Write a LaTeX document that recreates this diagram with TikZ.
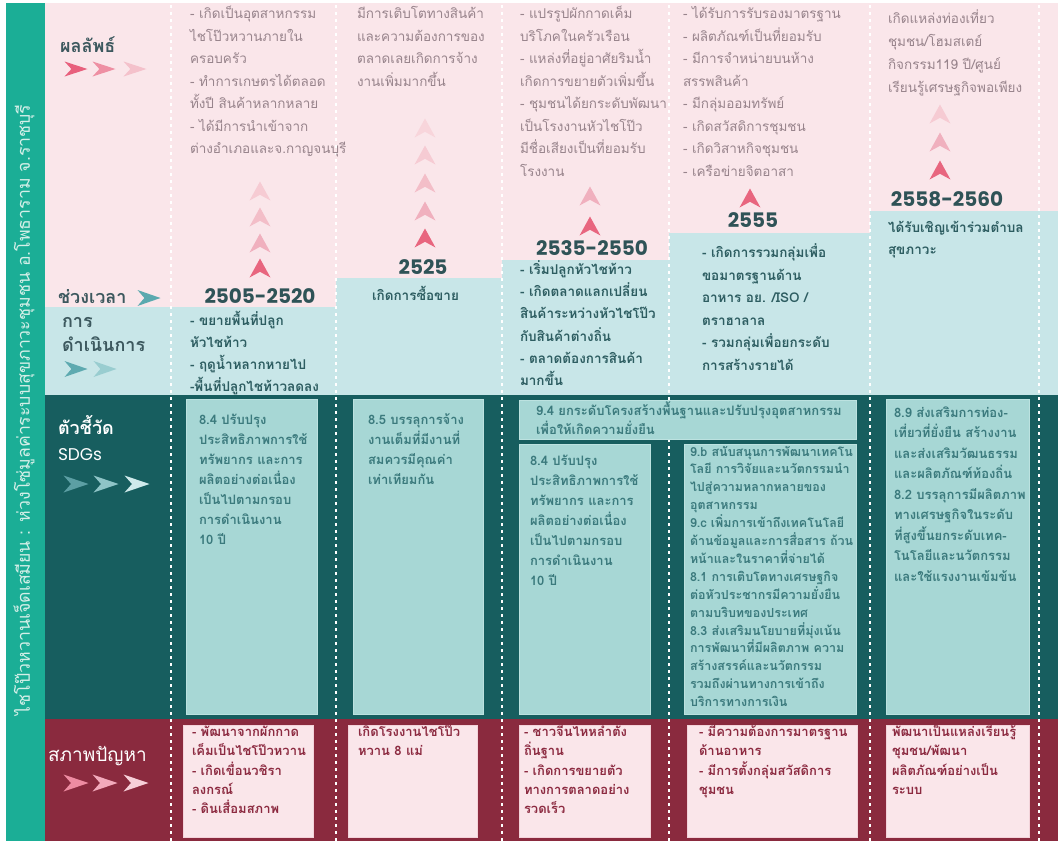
\documentclass[tikz,border=0pt]{standalone}
\usepackage{fontspec}
\setmainfont{Loma}[Script=Thai]
\newfontfamily\numfont{Poppins}
\definecolor{stripc}{HTML}{1BAE96}
\definecolor{striptext}{HTML}{D4EFE8}
\definecolor{pinkbg}{HTML}{FAE6EA}
\definecolor{tealbg}{HTML}{C8E6E8}
\definecolor{darkteal}{HTML}{175E5F}
\definecolor{sdgfill}{HTML}{A7D7D5}
\definecolor{sdgline}{HTML}{BCE2E0}
\definecolor{maroonbg}{HTML}{8A2A3E}
\definecolor{marline}{HTML}{F3D3DA}
\definecolor{pinktext}{HTML}{98848C}
\definecolor{headc}{HTML}{3C585E}
\definecolor{yearc}{HTML}{2F5357}
\definecolor{tealtext}{HTML}{2D5D61}
\definecolor{sdgtext}{HTML}{3B7A7D}
\definecolor{martext}{HTML}{8C2A40}
\newcommand\fl{\rule{0pt}{16pt}}
% up arrow: x, y, size, hex colour
\newcommand\uparr[4]{\definecolor{tmpc}{HTML}{#4}\fill[tmpc] (#1,#2-#3*0.5) -- (#1+#3*0.55,#2+#3*0.5) -- (#1,#2+#3*0.2) -- (#1-#3*0.55,#2+#3*0.5) -- cycle;}
% right arrow: x, y, width, height, hex colour
\newcommand\rarr[5]{\definecolor{tmpc}{HTML}{#5}\fill[tmpc] (#1+#3*0.5,#2) -- (#1-#3*0.5,#2-#4*0.5) -- (#1-#3*0.2,#2) -- (#1-#3*0.5,#2+#4*0.5) -- cycle;}
\tikzset{
  every node/.style={inner sep=0pt, outer sep=0pt},
  para/.style={anchor=north west, align=left},
  pinkpara/.style={para, text=pinktext, font=\fontsize{13.5}{22.5}\selectfont},
  tealpara/.style={para, text=tealtext, font=\fontsize{13.5}{22.2}\selectfont\bfseries},
  sdgpara/.style={para, text=sdgtext, font=\fontsize{13}{20}\selectfont\bfseries},
  sdgtight/.style={para, text=sdgtext, font=\fontsize{12.5}{17.9}\selectfont\bfseries},
  marpara/.style={para, text=martext, font=\fontsize{13}{19.3}\selectfont\bfseries},
  yearlbl/.style={text=yearc, font=\numfont\bfseries\fontsize{20}{24}\selectfont},
  headlbl/.style={anchor=base west, text=headc, font=\fontsize{18}{22}\selectfont\bfseries},
  whitelbl/.style={anchor=base west, text=white, font=\fontsize{18}{22}\selectfont\bfseries},
  dots/.style={white, line width=2.6pt, dash pattern=on 2.6pt off 4.4pt},
  sdgbox/.style={fill=sdgfill, draw=sdgline, line width=1pt},
  marbox/.style={fill=pinkbg, draw=marline, line width=1pt},
}
\begin{document}
\begin{tikzpicture}[x=1pt,y=-1pt]
\useasboundingbox (0,0) rectangle (1058,841);
\fill[white] (0,0) rectangle (1058,841);
% backgrounds
\fill[stripc] (6,3) rectangle (45,841);
\fill[pinkbg] (45,3) rectangle (1058,395);
\fill[tealbg] (45,307) -- (336,307) -- (336,278) -- (502,278) -- (502,260) -- (669,260) -- (669,233) -- (870,233) -- (870,211) -- (1058,211) -- (1058,395) -- (45,395) -- cycle;
\fill[darkteal] (45,395) rectangle (1058,719);
\fill[maroonbg] (45,719) rectangle (1058,841);
\foreach \x in {171,336,502,669,870,1039} \draw[dots] (\x,5) -- (\x,841);

% strip title
\node[rotate=90, text=striptext, font=\fontsize{17.7}{20}\selectfont] (title) at (24,410) {ไชโป๊วหวานเจ็ดเสมียน : ห่วงโซ่มูลค่าระบบสุขภาวะชุมชน อ.โพธาราม จ.ราชบุรี};

% row labels
\node[headlbl] (lres) at (60,52) {ผลลัพธ์};
\rarr{76}{69}{23}{15}{E8607D}
\rarr{104}{69}{23}{15}{EE8FA3}
\rarr{135}{69}{23}{15}{F4C1CB}
\node[headlbl] (lper) at (58,303) {ช่วงเวลา};
\rarr{149}{298}{23}{16}{5BA9AF}
\node[headlbl] (lop1) at (62,327) {การ};
\node[headlbl] (lop2) at (62,351) {ดำเนินการ};
\rarr{76}{369}{23}{16}{5EAAB0}
\rarr{105}{369}{23}{16}{99CDD0}
\node[whitelbl] (lind) at (58,434) {ตัวชี้วัด};
\node[anchor=base west, text=white, font=\numfont\fontsize{17}{20}\selectfont] (lsdg) at (58,460) {SDGs};
\rarr{76}{484}{25}{17}{5C9FA4}
\rarr{106}{484}{25}{17}{8FC4C7}
\rarr{137}{484}{25}{17}{CFEAEB}
\node[anchor=base west, text=white, font=\fontsize{19}{22}\selectfont] (lprob) at (48,761) {สภาพปัญหา};
\rarr{76}{783}{25}{17}{EE8CA2}
\rarr{105}{783}{25}{17}{F2AABB}
\rarr{136}{783}{25}{17}{F7D0D9}

% ===== column 1 =====
\node[pinkpara] (r1) at (190,2.5) {\fl- เกิดเป็นอุตสาหกรรม\\ไชโป๊วหวานภายใน\\ครอบครัว\\- ทำการเกษตรได้ตลอด\\ทั้งปี สินค้าหลากหลาย\\- ได้มีการนำเข้าจาก\\ต่างอำเภอและจ.กาญจนบุรี};
\uparr{260}{191}{19}{F6CBD3}
\uparr{260}{217}{19}{F3BEC8}
\uparr{260}{243}{19}{F0B0BE}
\uparr{260}{268}{19}{E8667F}
\node[yearlbl] (y1) at (260,296) {2505-2520};
\node[tealpara, font=\fontsize{13.5}{22}\selectfont\bfseries] (t1) at (190,309.5) {\fl- ขยายพื้นที่ปลูก\\หัวไชท้าว\\- ฤดูน้ำหลากหายไป\\-พื้นที่ปลูกไชท้าวลดลง};

% ===== column 2 =====
\node[pinkpara] (r2) at (357,2.5) {\fl มีการเติบโตทางสินค้า\\และความต้องการของ\\ตลาดเลยเกิดการจ้าง\\งานเพิ่มมากขึ้น};
\uparr{425}{128}{19}{F8D5DB}
\uparr{425}{155}{19}{F6CBD3}
\uparr{425}{183}{19}{F3BEC8}
\uparr{425}{211}{19}{F0B0BE}
\uparr{425}{238}{19}{E8667F}
\node[yearlbl] (y2) at (423,267) {2525};
\node[tealpara] (t2) at (372,284.5) {\fl เกิดการซื้อขาย};

% ===== column 3 =====
\node[pinkpara] (r3) at (520,2.5) {\fl- แปรรูปผักกาดเค็ม\\บริโภคในครัวเรือน\\- แหล่งที่อยู่อาศัยริมน้ำ\\เกิดการขยายตัวเพิ่มขึ้น\\- ชุมชนได้ยกระดับพัฒนา\\เป็นโรงงานหัวไชโป๊ว\\มีชื่อเสียงเป็นที่ยอมรับ\\โรงงาน};
\uparr{590}{196}{19}{F0B0BE}
\uparr{590}{226}{19}{E8667F}
\node[yearlbl] (y3) at (592,248) {2535-2550};
\node[tealpara] (t3) at (520,258.5) {\fl- เริ่มปลูกหัวไชท้าว\\- เกิดตลาดแลกเปลี่ยน\\สินค้าระหว่างหัวไชโป๊ว\\กับสินค้าต่างถิ่น\\- ตลาดต้องการสินค้า\\มากขึ้น};

% ===== column 4 =====
\node[pinkpara] (r4) at (683,2.5) {\fl- ได้รับการรับรองมาตรฐาน\\- ผลิตภัณฑ์เป็นที่ยอมรับ\\- มีการจำหน่ายบนห้าง\\สรรพสินค้า\\- มีกลุ่มออมทรัพย์\\- เกิดสวัสดิการชุมชน\\- เกิดวิสาหกิจชุมชน\\- เครือข่ายจิตอาสา};
\uparr{750}{198}{19}{E8667F}
\node[yearlbl] (y4) at (753,220) {2555};
\node[tealpara, font=\fontsize{13.5}{22.5}\selectfont\bfseries] (t4) at (702,241.5) {\fl- เกิดการรวมกลุ่มเพื่อ\\ขอมาตรฐานด้าน\\อาหาร อย. /ISO /\\ตราฮาลาล\\- รวมกลุ่มเพื่อยกระดับ\\การสร้างรายได้};

% ===== column 5 =====
\node[pinkpara, font=\fontsize{13.5}{23}\selectfont] (r5) at (888,7.5) {\fl เกิดแหล่งท่องเที่ยว\\ชุมชน/โฮมสเตย์\\กิจกรรม119 ปี/ศูนย์\\เรียนรู้เศรษฐกิจพอเพียง};
\uparr{940}{114}{19}{F6CBD3}
\uparr{940}{142}{19}{F0B0BE}
\uparr{940}{170}{19}{E8667F}
\node[yearlbl] (y5) at (947,199) {2558-2560};
\node[tealpara, font=\fontsize{13.5}{22}\selectfont\bfseries] (t5) at (888,216.5) {\fl ได้รับเชิญเข้าร่วมตำบล\\สุขภาวะ};

% ===== SDG boxes =====
\draw[sdgbox] (186,399) rectangle (317,714);
\node[sdgpara] (s1) at (199,408) {\fl 8.4 ปรับปรุง\\ประสิทธิภาพการใช้\\ทรัพยากร และการ\\ผลิตอย่างต่อเนื่อง\\เป็นไปตามกรอบ\\การดำเนินงาน\\10 ปี};
\draw[sdgbox] (353,399) rectangle (483,714);
\node[sdgpara] (s2) at (368,408) {\fl 8.5 บรรลุการจ้าง\\งานเต็มที่มีงานที่\\สมควรมีคุณค่า\\เท่าเทียมกัน};
\draw[sdgbox] (519,400) rectangle (856,439);
\node[sdgpara, font=\fontsize{13}{19.5}\selectfont\bfseries] (s3) at (536,399) {\fl 9.4 ยกระดับโครงสร้างพื้นฐานและปรับปรุงอุตสาหกรรม\\เพื่อให้เกิดความยั่งยืน};
\draw[sdgbox] (519,444) rectangle (650,714);
\node[sdgpara] (s3a) at (530,449.5) {\fl 8.4 ปรับปรุง\\ประสิทธิภาพการใช้\\ทรัพยากร และการ\\ผลิตอย่างต่อเนื่อง\\เป็นไปตามกรอบ\\การดำเนินงาน\\10 ปี};
\draw[sdgbox] (684,444) rectangle (856,714);
\node[sdgtight] (s3b) at (690,440) {\fl 9.b สนับสนุนการพัฒนาเทคโน\\โลยี การวิจัยและนวัตกรรมนำ\\ไปสู่ความหลากหลายของ\\อุตสาหกรรม\\9.c เพิ่มการเข้าถึงเทคโนโลยี\\ด้านข้อมูลและการสื่อสาร ถ้วน\\หน้าและในราคาที่จ่ายได้\\8.1 การเติบโตทางเศรษฐกิจ\\ต่อหัวประชากรมีความยั่งยืน\\ตามบริบทของประเทศ\\8.3 ส่งเสริมนโยบายที่มุ่งเน้น\\การพัฒนาที่มีผลิตภาพ ความ\\สร้างสรรค์และนวัตกรรม\\รวมถึงผ่านทางการเข้าถึง\\บริการทางการเงิน};
\draw[sdgbox] (886,399) rectangle (1029,714);
\node[sdgpara, font=\fontsize{13}{20.5}\selectfont\bfseries] (s5) at (894,401) {\fl 8.9 ส่งเสริมการท่อง-\\เที่ยวที่ยั่งยืน สร้างงาน\\และส่งเสริมวัฒนธรรม\\และผลิตภัณฑ์ท้องถิ่น\\8.2 บรรลุการมีผลิตภาพ\\ทางเศรษฐกิจในระดับ\\ที่สูงขึ้นยกระดับเทค-\\โนโลยีและนวัตกรรม\\และใช้แรงงานเข้มข้น};

% ===== problem boxes =====
\draw[marbox] (183,725) rectangle (313,837);
\node[marpara] (p1) at (192,720.5) {\fl- พัฒนาจากผักกาด\\เค็มเป็นไชโป๊วหวาน\\- เกิดเขื่อนวชิรา\\ลงกรณ์\\- ดินเสื่อมสภาพ};
\draw[marbox] (348,725) rectangle (477,837);
\node[marpara] (p2) at (358,720.5) {\fl เกิดโรงงานไชโป๊ว\\หวาน 8 แม่};
\draw[marbox] (519,725) rectangle (650,837);
\node[marpara] (p3) at (524,720.5) {\fl- ชาวจีนไหหลำตั้ง\\ถิ่นฐาน\\- เกิดการขยายตัว\\ทางการตลาดอย่าง\\รวดเร็ว};
\draw[marbox] (687,725) rectangle (857,837);
\node[marpara] (p4) at (699,720.5) {\fl- มีความต้องการมาตรฐาน\\ด้านอาหาร\\- มีการตั้งกลุ่มสวัสดิการ\\ชุมชน};
\draw[marbox] (886,725) rectangle (1029,837);
\node[marpara] (p5) at (892,720.5) {\fl พัฒนาเป็นแหล่งเรียนรู้\\ชุมชน/พัฒนา\\ผลิตภัณฑ์อย่างเป็น\\ระบบ};
\end{tikzpicture}
\end{document}
